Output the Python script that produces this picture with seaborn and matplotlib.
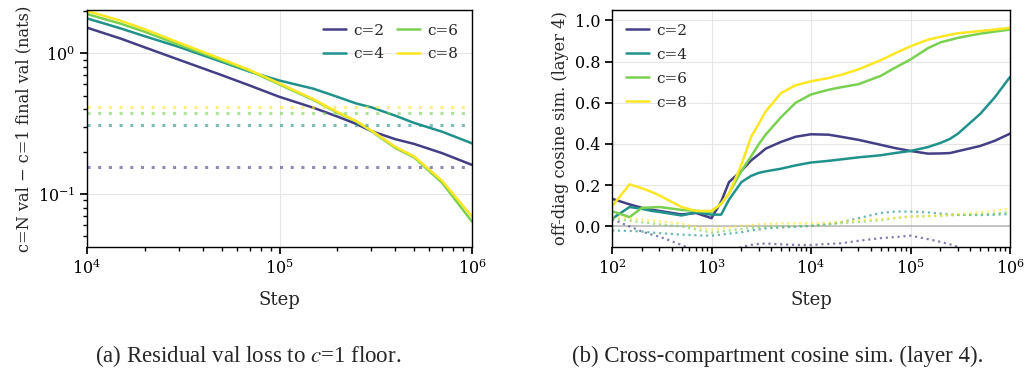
import numpy as np
import seaborn as sns
import matplotlib.pyplot as plt
from matplotlib.ticker import LogLocator, NullFormatter

# ---- data: (a) residual val loss ----
loss_steps = [1e4, 1.5e4, 2e4, 3e4, 5e4, 7e4, 1e5, 1.5e5, 2e5, 2.5e5, 3e5, 4e5, 5e5, 7e5, 1e6]
loss_c2 = [1.52, 1.27, 1.10, 0.90, 0.70, 0.59, 0.49, 0.41, 0.355, 0.315, 0.28, 0.245, 0.227, 0.195, 0.161]
loss_c4 = [1.77, 1.50, 1.32, 1.11, 0.87, 0.74, 0.64, 0.56, 0.49, 0.44, 0.413, 0.36, 0.32, 0.277, 0.229]
loss_c6 = [1.90, 1.62, 1.42, 1.15, 0.89, 0.75, 0.60, 0.466, 0.378, 0.328, 0.28, 0.212, 0.182, 0.12, 0.0636]
loss_c8 = [2.00, 1.70, 1.48, 1.19, 0.91, 0.76, 0.61, 0.472, 0.382, 0.330, 0.283, 0.216, 0.185, 0.124, 0.069]
floors = [0.155, 0.31, 0.379, 0.413]

# ---- data: (b) off-diagonal cosine similarity ----
cos_steps = [100, 150, 200, 250, 300, 500, 700, 1000, 1250, 1500, 2000, 2500, 3000, 3500,
             5000, 7000, 1e4, 1.5e4, 2e4, 3e4, 5e4, 7e4, 1e5, 1.5e5, 2e5, 2.5e5, 3e5, 5e5, 7e5, 1e6]
cos_c2 = [0.134, 0.107, 0.09, 0.081, 0.075, 0.058, 0.065, 0.04, 0.12, 0.215, 0.27, 0.32, 0.35, 0.377,
          0.41, 0.435, 0.447, 0.445, 0.435, 0.42, 0.396, 0.38, 0.366, 0.353, 0.354, 0.356, 0.365, 0.39, 0.415, 0.45]
cos_c4 = [0.037, 0.094, 0.085, 0.075, 0.07, 0.053, 0.068, 0.057, 0.057, 0.13, 0.215, 0.245, 0.26, 0.267,
          0.28, 0.296, 0.31, 0.318, 0.325, 0.335, 0.345, 0.356, 0.366, 0.385, 0.405, 0.425, 0.45, 0.545, 0.625, 0.725]
cos_c6 = [0.074, 0.045, 0.09, 0.092, 0.094, 0.08, 0.075, 0.07, 0.11, 0.16, 0.27, 0.34, 0.40, 0.445,
          0.53, 0.60, 0.64, 0.663, 0.675, 0.69, 0.73, 0.77, 0.81, 0.865, 0.893, 0.905, 0.915, 0.935, 0.945, 0.955]
cos_c8 = [0.097, 0.204, 0.185, 0.167, 0.15, 0.094, 0.075, 0.075, 0.11, 0.16, 0.30, 0.434, 0.50, 0.558,
          0.647, 0.685, 0.704, 0.72, 0.735, 0.762, 0.806, 0.84, 0.874, 0.906, 0.92, 0.93, 0.937, 0.948, 0.955, 0.963]
# dotted baselines
base_c2 = [0.035, 0.0, -0.025, -0.04, -0.05, -0.09, -0.12, -0.14, -0.14, -0.13, -0.10, -0.09, -0.085, -0.083,
           -0.087, -0.09, -0.09, -0.085, -0.082, -0.07, -0.057, -0.052, -0.045, -0.062, -0.075, -0.087, -0.10, -0.13, -0.16, -0.19]
base_c4 = [-0.02, -0.022, -0.025, -0.03, -0.033, -0.04, -0.043, -0.045, -0.04, -0.035, -0.028, -0.02, -0.015, -0.01,
           -0.005, -0.002, 0.002, 0.012, 0.02, 0.04, 0.065, 0.072, 0.072, 0.068, 0.062, 0.058, 0.056, 0.055, 0.057, 0.06]
base_c6 = [0.037, 0.028, 0.02, 0.015, 0.01, 0.0, -0.015, -0.03, -0.025, -0.02, -0.013, -0.008, -0.005, -0.002,
           0.0, 0.002, 0.004, 0.01, 0.015, 0.022, 0.03, 0.04, 0.048, 0.05, 0.052, 0.054, 0.055, 0.058, 0.062, 0.07]
base_c8 = [0.047, 0.04, 0.033, 0.028, 0.024, 0.015, -0.005, -0.016, -0.01, -0.005, 0.003, 0.006, 0.01, 0.012,
           0.015, 0.015, 0.016, 0.018, 0.022, 0.03, 0.036, 0.042, 0.047, 0.05, 0.053, 0.056, 0.06, 0.068, 0.076, 0.087]

labels = ["c=2", "c=4", "c=6", "c=8"]
colors = [plt.cm.viridis(v) for v in (0.18, 0.5, 0.8, 1.0)]

sns.set_theme(style="whitegrid", rc={
    "grid.color": "#e6e6e6", "grid.linewidth": 0.8,
    "axes.edgecolor": "black", "axes.linewidth": 1.0,
    "xtick.bottom": True, "ytick.left": True,
    "xtick.direction": "out", "ytick.direction": "out",
    "xtick.color": "black", "ytick.color": "black",
    "xtick.major.size": 5, "ytick.major.size": 5,
    "xtick.minor.size": 3, "ytick.minor.size": 3,
})
plt.rcParams["font.family"] = ["DejaVu Serif"]
plt.rcParams["mathtext.fontset"] = "dejavuserif"
plt.rcParams["font.size"] = 11

fig = plt.figure(figsize=(10.26, 3.71), dpi=100)
ax1 = fig.add_axes([87 / 1026, 1 - 247 / 371, 385 / 1026, 237 / 371])
ax2 = fig.add_axes([612 / 1026, 1 - 247 / 371, 398 / 1026, 237 / 371])

leg_kw = dict(frameon=False, fontsize=11, handlelength=1.5, handletextpad=0.5,
              borderaxespad=0.5)

# (a)
for ys, lab, col in zip([loss_c2, loss_c4, loss_c6, loss_c8], labels, colors):
    sns.lineplot(x=loss_steps, y=ys, ax=ax1, color=col, lw=1.8, label=lab)
for fl, col in zip(floors, colors):
    ax1.axhline(fl, color=col, ls=(0, (1, 2.5)), lw=2.2, alpha=0.6)
ax1.set_xscale("log")
ax1.set_yscale("log")
ax1.set_xlim(1e4, 1e6)
ax1.set_ylim(0.042, 2.03)
ax1.set_ylabel("c=N val − c=1 final val (nats)", fontsize=11.7)
ax1.legend(ncol=2, loc="upper right", columnspacing=0.8, labelspacing=0.6, **leg_kw)

# (b)
ax2.axhline(0, color="#bbbbbb", lw=1.2, zorder=1)
for ys, lab, col in zip([cos_c2, cos_c4, cos_c6, cos_c8], labels, colors):
    sns.lineplot(x=cos_steps, y=ys, ax=ax2, color=col, lw=1.8, label=lab)
for ys, col in zip([base_c2, base_c4, base_c6, base_c8], colors):
    sns.lineplot(x=cos_steps, y=ys, ax=ax2, color=col, lw=1.6, ls=":", alpha=0.65)
ax2.set_xscale("log")
ax2.set_xlim(1e2, 1e6)
ax2.set_ylim(-0.1, 1.05)
ax2.set_yticks([0.0, 0.2, 0.4, 0.6, 0.8, 1.0])
ax2.set_ylabel("off-diag cosine sim. (layer 4)", fontsize=11.7)
ax2.legend(loc="upper left", labelspacing=0.65, **leg_kw)

for ax in (ax1, ax2):
    ax.set_xlabel("Step", fontsize=13, labelpad=9)
    ax.xaxis.set_minor_locator(LogLocator(base=10, subs=np.arange(2, 10)))
    ax.xaxis.set_minor_formatter(NullFormatter())
    ax.tick_params(which="both", labelsize=11.5)
    ax.grid(True, which="major")
    ax.grid(False, which="minor")
    for s in ax.spines.values():
        s.set_color("black")
ax1.yaxis.set_minor_formatter(NullFormatter())

fig.text(248 / 1026, 1 - 356 / 371, "(a) Residual val loss to $c$=1 floor.",
         ha="center", va="center", family="Liberation Serif", fontsize=16.5,
         math_fontfamily="stix")
fig.text(778 / 1026, 1 - 356 / 371, "(b) Cross-compartment cosine sim. (layer 4).",
         ha="center", va="center", family="Liberation Serif", fontsize=16.5)

fig.savefig("out.png", dpi=100)
